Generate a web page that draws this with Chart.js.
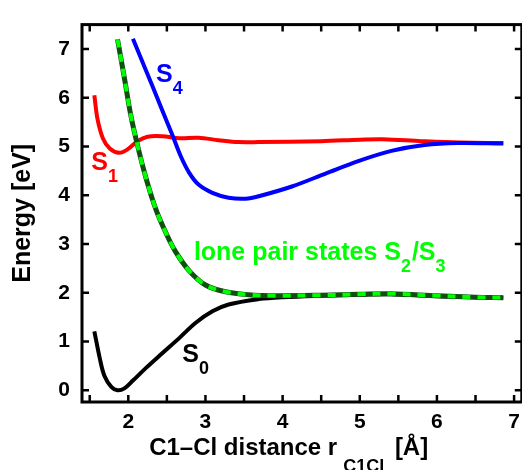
<!DOCTYPE html>
<html>
<head>
<meta charset="utf-8">
<script src="https://cdn.jsdelivr.net/npm/chart.js@4"></script>
<style>
  html, body { margin: 0; padding: 0; background: #fff; overflow: hidden; }
  #wrap { width: 528px; height: 470px; }
</style>
</head>
<body>
<div id="wrap"><canvas id="pes" width="528" height="470"></canvas></div>
<script>
// C1-Cl potential energy curves
const rS0 = [1.56, 1.63, 1.69, 1.78, 1.86, 1.95, 2.06, 2.23, 2.44, 2.66, 2.87, 3.09, 3.30, 3.69, 4.0, 4.5, 5.0, 5.4, 6.0, 6.5, 6.86];
const eS0 = [1.21, 0.66, 0.30, 0.07, 0.00, 0.04, 0.20, 0.46, 0.76, 1.07, 1.38, 1.62, 1.76, 1.87, 1.91, 1.94, 1.96, 1.97, 1.93, 1.91, 1.90];

const rS1 = [1.56, 1.60, 1.67, 1.76, 1.88, 1.99, 2.12, 2.25, 2.44, 2.66, 2.91, 3.17, 3.43, 3.69, 4.5, 5.0, 5.3, 5.8, 6.3, 6.86];
const eS1 = [6.05, 5.57, 5.17, 4.96, 4.87, 4.94, 5.11, 5.20, 5.21, 5.17, 5.18, 5.13, 5.09, 5.09, 5.11, 5.14, 5.15, 5.11, 5.08, 5.07];

const rS23 = [1.86, 1.95, 2.03, 2.12, 2.23, 2.36, 2.49, 2.61, 2.79, 3.00, 3.26, 3.56, 3.90, 4.5, 5.0, 5.4, 6.0, 6.5, 6.86];
const eS23 = [7.20, 6.40, 5.66, 5.02, 4.35, 3.70, 3.22, 2.85, 2.45, 2.16, 2.02, 1.96, 1.94, 1.95, 1.97, 1.98, 1.94, 1.91, 1.90];

const rS4 = [2.06, 2.14, 2.31, 2.42, 2.57, 2.68, 2.79, 2.91, 3.09, 3.30, 3.52, 3.69, 4.12, 4.55, 4.98, 5.41, 5.84, 6.27, 6.86];
const eS4 = [7.21, 6.90, 6.25, 5.82, 5.24, 4.80, 4.46, 4.22, 4.05, 3.95, 3.93, 3.98, 4.18, 4.44, 4.70, 4.91, 5.03, 5.07, 5.06];

const xTicks = [2, 3, 4, 5, 6, 7];
const xMinorTicks = [1.5, 2, 2.5, 3, 3.5, 4, 4.5, 5, 5.5, 6, 6.5, 7];
const yTicks = [0, 1, 2, 3, 4, 5, 6, 7];

const FONT = "'Liberation Sans', Arial, Helvetica, sans-serif";

function pts(xs, ys) {
    return xs.map((x, i) => ({ x: x, y: ys[i] }));
}

function curve(data, color, width, dash) {
    return {
        data: data,
        borderColor: color,
        borderWidth: width,
        borderDash: dash || [],
        pointRadius: 0,
        fill: false,
        tension: 0.35
    };
}

// text pieces: [text, isSubscript]
const stateLabels = [
    { parts: [['S', 0], ['4', 1]], r: 2.36, e: 6.32, color: '#0000ff' },
    { parts: [['S', 0], ['1', 1]], r: 1.52, e: 4.52, color: '#ff0000' },
    { parts: [['S', 0], ['0', 1]], r: 2.70, e: 0.58, color: '#000000' },
    { parts: [['lone pair states S', 0], ['2', 1], ['/S', 0], ['3', 1]], r: 2.85, e: 2.67, color: '#00ff00' }
];

// draws text runs left to right, subscripts dropped and padded by gap
function drawParts(ctx, parts, x, y, size, subSize, drop, gapL, gapR) {
    parts.forEach(p => {
        ctx.font = 'bold ' + (p[1] ? subSize : size) + 'px ' + FONT;
        if (p[1]) x += gapL;
        ctx.fillText(p[0], x, p[1] ? y + drop : y);
        x += ctx.measureText(p[0]).width + (p[1] ? gapR : 0);
    });
}

const framePlugin = {
    id: 'frame',
    afterDatasetsDraw(chart) {
        const { ctx, chartArea: a, scales: { x, y } } = chart;
        ctx.save();
        ctx.strokeStyle = '#000';
        ctx.lineWidth = 3;
        ctx.strokeRect(a.left, a.top, a.right - a.left, a.bottom - a.top);
        ctx.lineWidth = 2.5;
        ctx.beginPath();
        xMinorTicks.forEach(v => {
            const p = x.getPixelForValue(v);
            ctx.moveTo(p, a.bottom); ctx.lineTo(p, a.bottom - 7);
            ctx.moveTo(p, a.top); ctx.lineTo(p, a.top + 7);
        });
        yTicks.forEach(v => {
            const p = y.getPixelForValue(v);
            ctx.moveTo(a.left, p); ctx.lineTo(a.left + 7, p);
            ctx.moveTo(a.right, p); ctx.lineTo(a.right - 7, p);
        });
        ctx.stroke();

        // state labels
        ctx.textBaseline = 'alphabetic';
        ctx.textAlign = 'left';
        stateLabels.forEach(l => {
            ctx.fillStyle = l.color;
            drawParts(ctx, l.parts, x.getPixelForValue(l.r), y.getPixelForValue(l.e), 25, 18, 12, 0, 1);
        });

        // x axis title with subscript
        const title = [['C1\u2013Cl distance r', 0], ['C1Cl', 1], [' [\u00c5]', 0]];
        ctx.fillStyle = '#000';
        drawParts(ctx, title, x.getPixelForValue(2.27), 455, 24, 18, 17, 6, 4);
        ctx.restore();
    }
};

new Chart(document.getElementById('pes'), {
    type: 'line',
    data: {
        datasets: [
            curve(pts(rS23, eS23), '#00ff00', 4, [8, 7]),
            curve(pts(rS23, eS23), '#0f4f0f', 5),
            curve(pts(rS4, eS4), '#0000ff', 4),
            curve(pts(rS1, eS1), '#ff0000', 4),
            curve(pts(rS0, eS0), '#000000', 4)
        ]
    },
    options: {
        responsive: false,
        animation: false,
        events: [],
        layout: { padding: { left: 0, top: 13, right: 4, bottom: 0 } },
        plugins: { legend: { display: false }, tooltip: { enabled: false } },
        scales: {
            x: {
                type: 'linear',
                min: 1.4,
                max: 7.1,
                afterBuildTicks: s => { s.ticks = xTicks.map(v => ({ value: v })); },
                afterFit: s => { s.height = 68; },
                grid: { display: false, drawTicks: false },
                border: { display: false },
                ticks: { color: '#000', padding: 8, maxRotation: 0, font: { family: FONT, size: 21, weight: 'bold' } }
            },
            y: {
                type: 'linear',
                min: -0.24,
                max: 7.5,
                afterBuildTicks: s => { s.ticks = yTicks.map(v => ({ value: v })); },
                afterFit: s => { s.width = 82; },
                grid: { display: false, drawTicks: false },
                border: { display: false },
                ticks: { color: '#000', padding: 12, font: { family: FONT, size: 21, weight: 'bold' } },
                title: {
                    display: true,
                    text: 'Energy [eV]',
                    color: '#000',
                    padding: { top: 8, bottom: 0 },
                    font: { family: FONT, size: 25, weight: 'bold' }
                }
            }
        }
    },
    plugins: [framePlugin]
});
</script>
</body>
</html>
